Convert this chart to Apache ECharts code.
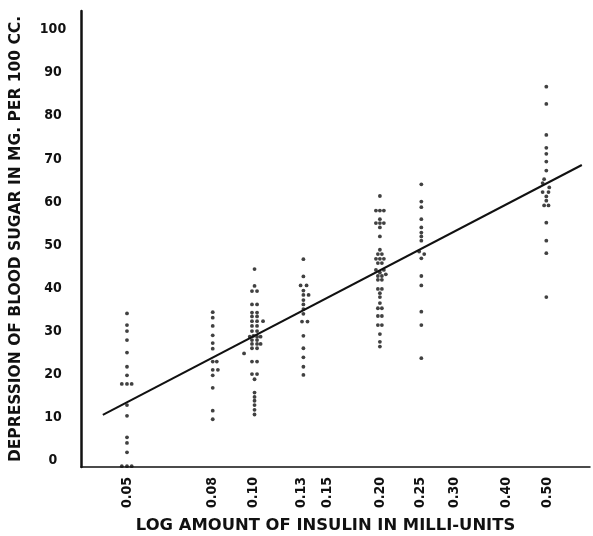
<!DOCTYPE html>
<html>
<head>
<meta charset="utf-8">
<script src="https://cdn.jsdelivr.net/npm/echarts@6/dist/echarts.min.js"></script>
<style>
  html, body { margin: 0; padding: 0; background: #fff; }
  #chart { width: 593px; height: 536px; }
</style>
</head>
<body>
<div id="chart"></div>
<script>
// tick labels on the log axis
const xTicks = ['0.05', '0.08', '0.10', '0.13', '0.15', '0.20', '0.25', '0.30', '0.40', '0.50']

// points, [dose, depression]
const dose005 = [
  [0.05, 35.7], [0.05, 33.0], [0.05, 31.6], [0.05, 29.5], [0.05, 26.6], [0.05, 23.3],
  [0.05, 21.3], [0.0486, 19.3], [0.05, 19.3], [0.0513, 19.3], [0.05, 14.4], [0.05, 11.9],
  [0.05, 6.9], [0.05, 5.6], [0.05, 3.4], [0.0486, 0.2], [0.05, 0.2], [0.0513, 0.2]
]
const dose008 = [
  [0.08, 36.0], [0.08, 34.7], [0.08, 32.8], [0.08, 30.6], [0.08, 28.8], [0.08, 27.5],
  [0.08, 24.5], [0.0818, 24.5], [0.08, 22.6], [0.0823, 22.6], [0.08, 21.3], [0.08, 18.4],
  [0.08, 13.1], [0.08, 11.1]
]
const dose010 = [
  [0.1006, 46.0], [0.1006, 42.1], [0.0992, 40.9], [0.102, 40.9], [0.0992, 37.8], [0.102, 37.8],
  [0.0992, 35.9], [0.102, 35.9], [0.0992, 35.0], [0.102, 35.0], [0.0992, 33.9], [0.102, 33.9],
  [0.1054, 33.9], [0.0992, 32.8], [0.102, 32.8], [0.0992, 31.6], [0.102, 31.6], [0.098, 30.3],
  [0.1, 30.5], [0.102, 30.3], [0.104, 30.3], [0.0992, 29.5], [0.102, 29.5], [0.0992, 28.6],
  [0.102, 28.6], [0.104, 28.6], [0.0992, 27.6], [0.102, 27.6], [0.095, 26.4], [0.0992, 24.5],
  [0.102, 24.5], [0.0992, 21.6], [0.102, 21.6], [0.1006, 20.4], [0.1006, 17.3], [0.1006, 16.3],
  [0.1006, 15.4], [0.1006, 14.4], [0.1006, 13.3], [0.1006, 12.2]
]
const dose013 = [
  [0.1315, 48.3], [0.1315, 44.3], [0.1295, 42.2], [0.1338, 42.2], [0.1315, 41.0], [0.1315, 40.0],
  [0.1353, 40.0], [0.1315, 38.8], [0.1315, 37.8], [0.1315, 36.7], [0.1315, 35.6], [0.1305, 33.8],
  [0.1345, 33.8], [0.1315, 30.5], [0.1315, 27.6], [0.1315, 25.5], [0.1315, 23.3], [0.1315, 21.4]
]
const dose020 = [
  [0.20, 63.0], [0.1957, 59.6], [0.20, 59.6], [0.2044, 59.6], [0.20, 57.6], [0.1957, 56.7],
  [0.20, 56.7], [0.2044, 56.7], [0.20, 55.7], [0.20, 53.6], [0.20, 50.5], [0.1978, 49.5],
  [0.2022, 49.5], [0.1957, 48.4], [0.20, 48.4], [0.2044, 48.4], [0.1978, 47.4], [0.2022, 47.4],
  [0.1957, 45.8], [0.20, 45.2], [0.2044, 45.8], [0.2066, 44.8], [0.1978, 44.4], [0.2022, 44.4],
  [0.1978, 43.5], [0.2022, 43.5], [0.1978, 41.4], [0.2022, 41.4], [0.20, 40.4], [0.20, 39.5],
  [0.20, 38.1], [0.1978, 36.9], [0.2022, 36.9], [0.1978, 35.1], [0.2022, 35.1], [0.1978, 33.0],
  [0.2022, 33.0], [0.20, 30.9], [0.20, 29.1], [0.20, 28.0]
]
const dose025 = [
  [0.251, 65.7], [0.251, 61.7], [0.251, 60.4], [0.251, 57.6], [0.251, 55.7], [0.251, 54.5],
  [0.251, 53.6], [0.251, 52.6], [0.248, 50.1], [0.255, 49.5], [0.251, 48.5], [0.251, 44.4],
  [0.251, 42.2], [0.251, 36.1], [0.251, 33.0], [0.251, 25.3]
]
const dose050 = [
  [0.498, 88.4], [0.498, 84.4], [0.498, 77.2], [0.498, 74.2], [0.498, 72.8], [0.498, 71.0],
  [0.498, 68.9], [0.492, 66.9], [0.488, 66.0], [0.506, 65.0], [0.488, 63.9], [0.504, 63.9],
  [0.498, 62.9], [0.498, 61.9], [0.492, 60.8], [0.504, 60.8], [0.498, 56.8], [0.498, 52.6],
  [0.498, 49.7], [0.498, 39.5]
]

// fitted line, two ends
const fitLine = [[0.0438, 12.1], [0.605, 70.2]]

const allPoints = [].concat(dose005, dose008, dose010, dose013, dose020, dose025, dose050)
const labelFont = '"Liberation Sans Narrow", "DejaVu Sans Condensed", "DejaVu Sans", sans-serif'

const chart = echarts.init(document.getElementById('chart'))
const option = {
  backgroundColor: '#fff',
  animation: false,
  grid: {
    left: 81,
    right: 3,
    top: 11,
    bottom: 69,
    outerBoundsMode: 'none'
  },
  xAxis: {
    type: 'log',
    logBase: 10,
    min: 0.03886,
    max: 0.6327,
    name: 'LOG AMOUNT OF INSULIN IN MILLI-UNITS',
    nameLocation: 'middle',
    nameGap: 51,
    nameTextStyle: {
      color: '#111',
      fontFamily: '"DejaVu Sans", sans-serif',
      fontWeight: 'bold',
      fontSize: 16.4,
      padding: [0, 20, 0, 0]
    },
    axisLine: { lineStyle: { color: '#111', width: 1.5 } },
    axisTick: { show: false },
    splitLine: { show: false },
    axisLabel: {
      customValues: xTicks.map(Number),
      formatter: (v) => xTicks.find((t) => Math.abs(Number(t) - v) < 1e-6) || '',
      rotate: 90,
      margin: 10,
      color: '#111',
      fontFamily: labelFont,
      fontWeight: 'bold',
      fontSize: 14
    }
  },
  yAxis: {
    type: 'value',
    min: 0,
    max: 106,
    interval: 10,
    name: 'DEPRESSION OF BLOOD SUGAR IN MG. PER 100 CC.',
    nameLocation: 'middle',
    nameRotate: 90,
    nameGap: 57,
    nameTextStyle: {
      color: '#111',
      fontFamily: '"DejaVu Sans", sans-serif',
      fontWeight: 'bold',
      fontSize: 15.5
    },
    axisLine: { show: true, lineStyle: { color: '#111', width: 2.5 } },
    axisTick: { show: false },
    splitLine: { show: false },
    axisLabel: {
      showMaxLabel: false,
      margin: 28,
      align: 'center',
      verticalAlign: 'bottom',
      lineHeight: 14,
      color: '#111',
      fontFamily: labelFont,
      fontWeight: 'bold',
      fontSize: 14
    }
  },
  series: [
    {
      type: 'line',
      data: fitLine,
      symbol: 'none',
      lineStyle: { color: '#111', width: 2 },
      z: 3
    },
    {
      type: 'scatter',
      data: allPoints,
      symbol: 'circle',
      symbolSize: 3.8,
      itemStyle: { color: '#111' },
      z: 4
    }
  ]
}
chart.setOption(option)
window.onresize = () => {
  chart.resize()
}
</script>
</body>
</html>
